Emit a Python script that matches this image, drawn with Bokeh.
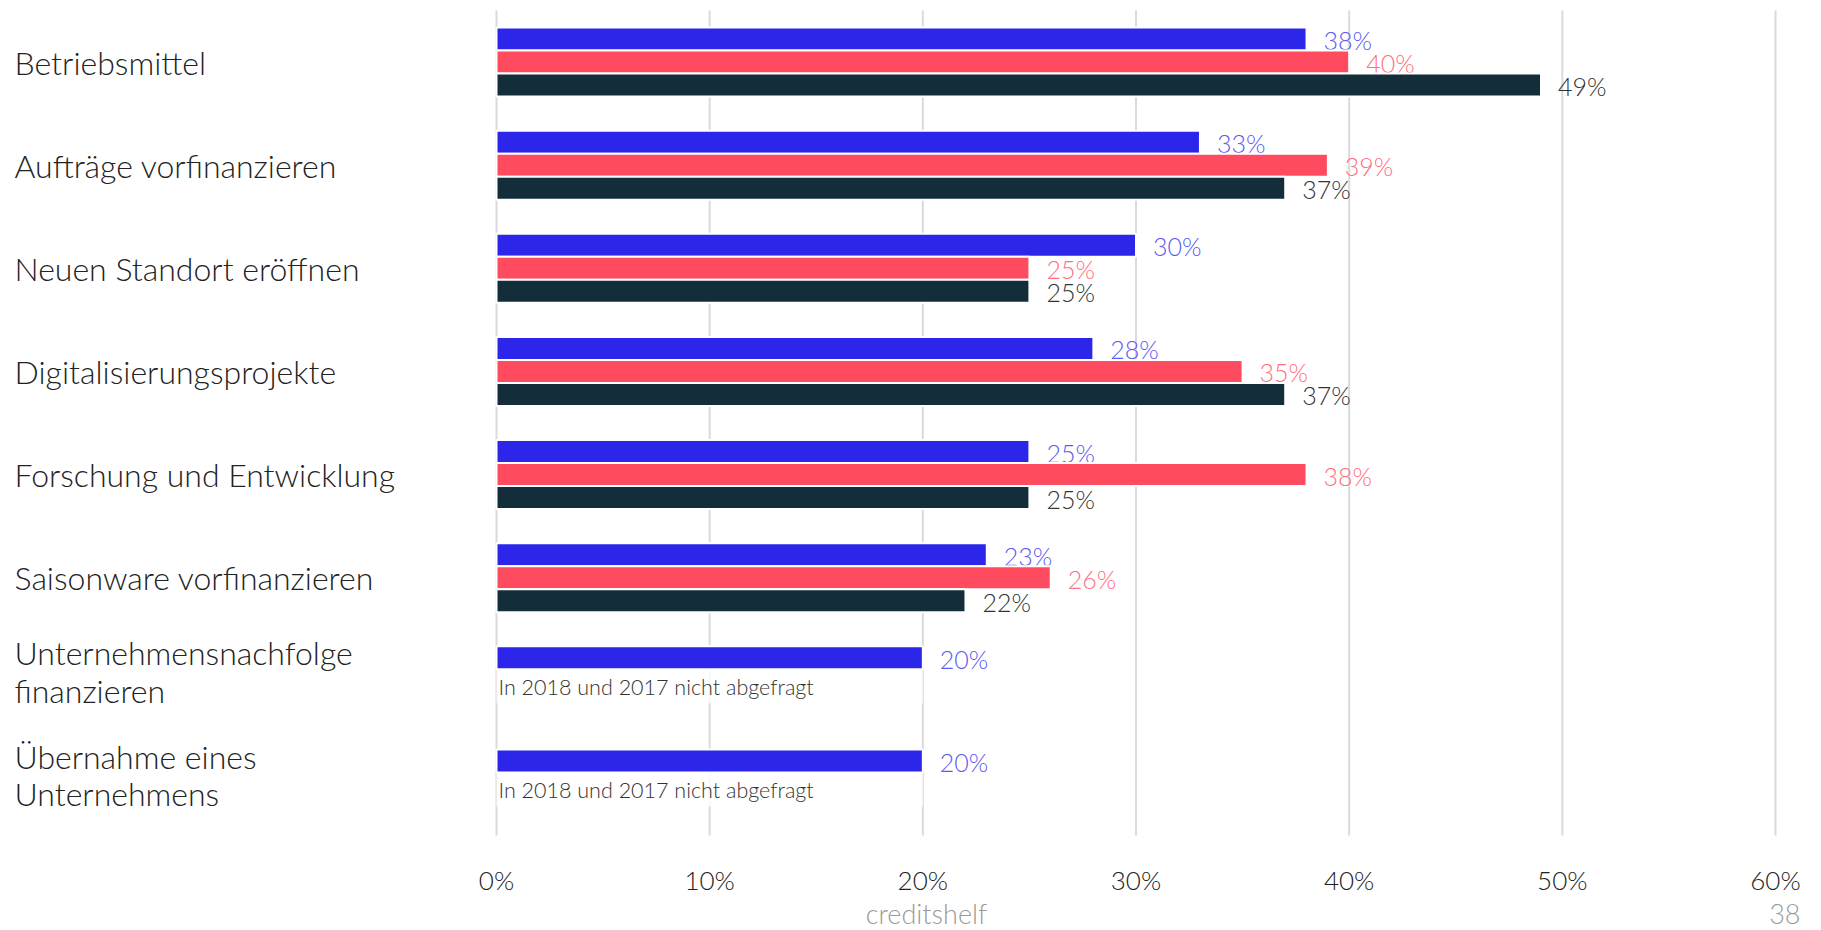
from bokeh.plotting import figure
from bokeh.models import (ColumnDataSource, Range1d, FixedTicker, PrintfTickFormatter,
                          LinearAxis)
from bokeh.core.properties import value
from bokeh.embed import file_html
from bokeh.resources import INLINE

# ---------------- data ----------------
categories = [
    "Betriebsmittel",
    "Aufträge vorfinanzieren",
    "Neuen Standort eröffnen",
    "Digitalisierungsprojekte",
    "Forschung und Entwicklung",
    "Saisonware vorfinanzieren",
    "Unternehmensnachfolge\nfinanzieren",
    "Übernahme eines\nUnternehmens",
]
series_names = ["2019", "2018", "2017"]
values_2019 = [38, 33, 30, 28, 25, 23, 20, 20]
values_2018 = [40, 39, 25, 35, 38, 26, None, None]
values_2017 = [49, 37, 25, 37, 25, 22, None, None]
x_ticks = [0, 10, 20, 30, 40, 50, 60]
note_text = "In 2018 und 2017 nicht abgefragt"
footer_left = "creditshelf"
footer_page = "38"

# ---------------- style / layout (pixels) ----------------
FONT = "Lato Light, Roboto Light, Open Sans Light, Roboto, sans-serif"
bar_colors = ["#2B26EA", "#FF4B5F", "#132E3A"]
label_colors = ["#5B5BF2", "#FF6F80", "#333333"]
W, H = 1821, 930
PLOT_L, PLOT_R = 496, 1775          # pixel positions of the 0% and 60% lines
PLOT_T, PLOT_B = 10, 835            # top / bottom of the category area
n = len(categories)
px_x = (PLOT_R - PLOT_L) / (x_ticks[-1] - x_ticks[0])
px_y = (PLOT_B - PLOT_T) / n
SLOT = 23.0 / px_y                  # spacing of bars inside a group (data units)

x_range = Range1d(x_ticks[0] - PLOT_L / px_x, x_ticks[-1] + (W - PLOT_R) / px_x)
y_range = Range1d(n + (H - PLOT_B) / px_y, -PLOT_T / px_y)

p = figure(width=W, height=H, output_backend="svg", toolbar_location=None,
           x_range=x_range, y_range=y_range,
           x_axis_location=None, y_axis_location=None,
           min_border_left=0, min_border_right=0, min_border_top=0, min_border_bottom=0)
p.outline_line_color = None
p.grid.visible = False
p.background_fill_color = "white"
p.border_fill_color = "white"

# x axis, fixed at the bottom of the category area
xa = LinearAxis(fixed_location=n)
xa.ticker = FixedTicker(ticks=x_ticks)
xa.formatter = PrintfTickFormatter(format="%d%%")
xa.axis_line_color = None
xa.major_tick_line_color = None
xa.minor_tick_line_color = None
xa.major_label_text_font = FONT
xa.major_label_text_font_size = "26px"
xa.major_label_text_color = "#222222"
xa.major_label_standoff = 22
p.add_layout(xa, "below")

# vertical grid lines at the ticks, spanning the category area
p.segment(x0=x_ticks, y0=[0] * len(x_ticks), x1=x_ticks, y1=[n] * len(x_ticks),
          line_color="#DADADA", line_width=2)

centers = [i + 0.5 for i in range(n)]
all_values = [values_2019, values_2018, values_2017]

# semi-transparent white box behind the note text (only where 2018/2017 missing)
box_y, box_r = [], []
for c, v19, v18 in zip(centers, values_2019, values_2018):
    if v18 is None:
        box_y.append(c + 5.5 / px_y)
        box_r.append(v19)
if box_y:
    p.hbar(y=box_y, left=0, right=box_r, height=34 / px_y,
           fill_color="white", fill_alpha=0.8, line_color=None)

for k, (vals, bc, lc) in enumerate(zip(all_values, bar_colors, label_colors)):
    ys, xs, txt = [], [], []
    for c, v in zip(centers, vals):
        if v is None:
            continue
        ys.append(c + (k - 1) * SLOT)
        xs.append(v)
        txt.append(f"{v}%")
    src = ColumnDataSource(dict(y=ys, x=xs, t=txt))
    p.hbar(y="y", left=0, right="x", height=SLOT, source=src,
           fill_color=bc, line_color="white", line_width=2)
    p.text(x="x", y="y", text="t", source=src, x_offset=17, y_offset=1,
           text_font=value(FONT), text_font_size="25px", text_color=lc,
           text_baseline="middle", text_align="left")

# notes for missing years
note_y = [c for c, v in zip(centers, values_2018) if v is None]
if note_y:
    p.text(x=[0] * len(note_y), y=note_y, text=[note_text] * len(note_y),
           x_offset=2, y_offset=6,
           text_font=value(FONT), text_font_size="21.5px", text_color="#333333",
           text_baseline="middle", text_align="left")

# category labels (left side, left aligned)
single = [(c, t) for c, t in zip(centers, categories) if "\n" not in t]
multi = [(c, t) for c, t in zip(centers, categories) if "\n" in t]
for items, yoff in ((single, 0), (multi, -9)):
    if not items:
        continue
    p.text(x=[0] * len(items), y=[c for c, _ in items], text=[t for _, t in items],
           x_offset=14 - PLOT_L, y_offset=yoff,
           text_font=value(FONT), text_font_size="32px", text_color="#222222",
           text_baseline="middle", text_align="left", text_line_height=0.97)

# footer (anchored to the axis line, offset in pixels)
p.text(x=[0], y=[n], text=[footer_left], x_offset=926 - PLOT_L, y_offset=913 - PLOT_B,
       text_font=value(FONT), text_font_size="27px", text_color="#9A9A9A",
       text_align="center", text_baseline="middle")
p.text(x=[x_ticks[-1]], y=[n], text=[footer_page], x_offset=1800 - PLOT_R,
       y_offset=913 - PLOT_B,
       text_font=value(FONT), text_font_size="27px", text_color="#9A9A9A",
       text_align="right", text_baseline="middle")

open("out.html", "w").write(file_html(p, INLINE))
